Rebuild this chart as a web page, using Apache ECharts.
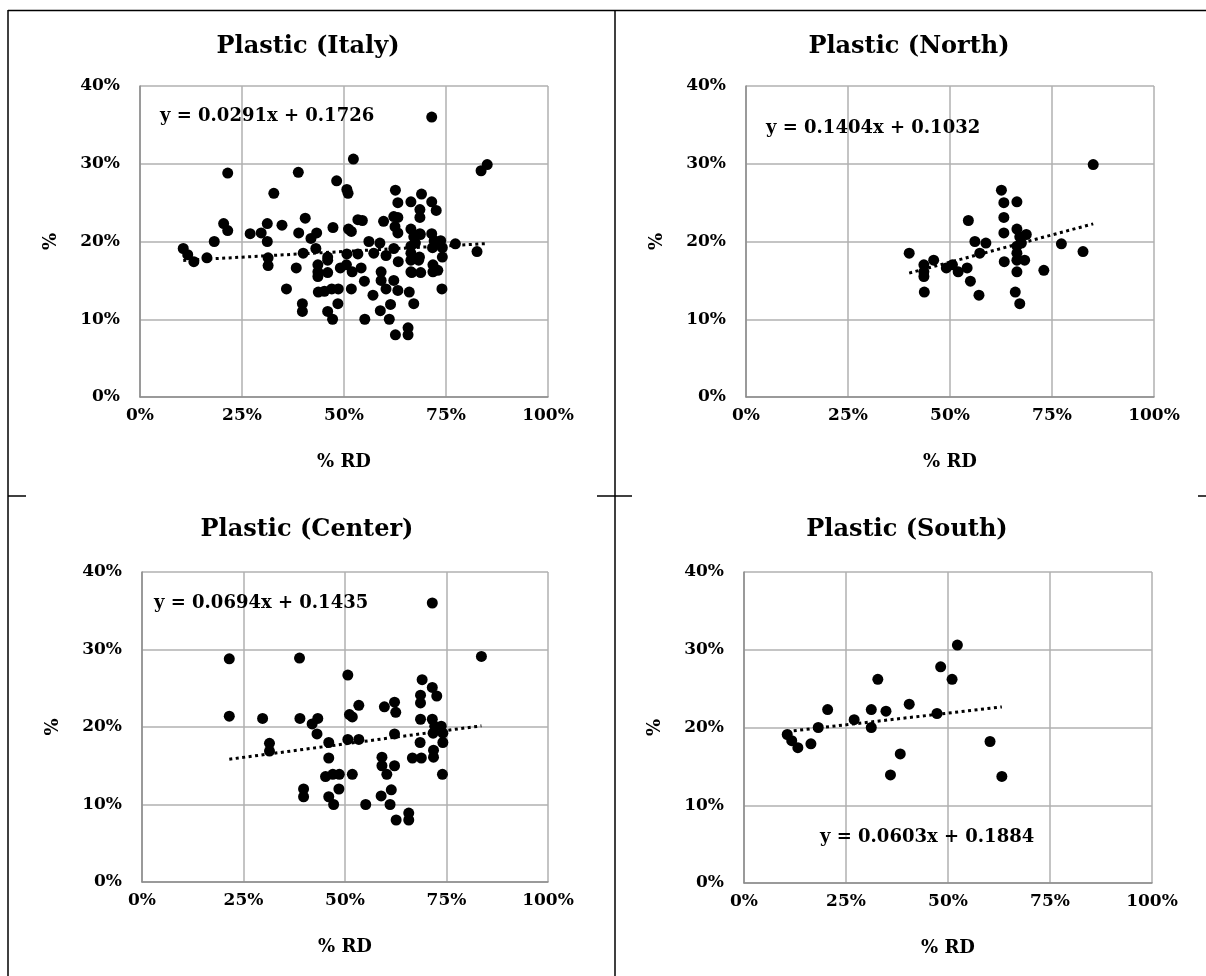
<!DOCTYPE html>
<html><head><meta charset="utf-8">
<script src="https://cdn.jsdelivr.net/npm/echarts@6/dist/echarts.min.js"></script>
<style>html,body{margin:0;padding:0;background:#fff}#c{width:1206px;height:976px}</style>
</head><body><div id="c"></div><script>
// Data: [% RD, % plastic]
const northPts = [
  [85.1,29.9],[62.6,26.6],[63.2,25.0],[66.4,25.1],[54.5,22.7],[63.2,23.1],[63.2,21.1],
  [66.4,21.6],[68.7,20.9],[67.1,20.6],[56.1,20.0],[58.8,19.8],[77.3,19.7],[82.6,18.7],
  [57.3,18.5],[40.0,18.5],[46.0,17.6],[43.6,17.0],[43.6,16.1],[43.6,15.5],[49.1,16.6],
  [50.6,17.0],[52.0,16.1],[54.2,16.6],[55.0,14.9],[57.1,13.1],[43.7,13.5],[63.3,17.4],
  [66.4,18.5],[66.4,17.6],[68.3,17.6],[66.4,16.1],[73.0,16.3],[66.0,13.5],[67.1,12.0],
  [66.4,19.4],[67.5,19.8]
];
const centerPts = [
  [71.5,36.0],[21.5,28.8],[38.8,28.9],[83.6,29.1],[50.7,26.7],[69.0,26.1],[71.5,25.1],
  [72.6,24.0],[68.6,24.1],[68.6,23.1],[53.4,22.8],[59.7,22.6],[62.2,23.2],[62.5,21.9],
  [51.1,21.6],[51.8,21.3],[21.5,21.4],[29.7,21.1],[38.9,21.1],[43.3,21.1],[41.9,20.4],
  [43.1,19.1],[68.6,21.0],[71.5,21.0],[72.1,20.1],[73.7,20.1],[71.7,19.2],[74.1,19.2],
  [74.1,18.0],[62.2,19.1],[50.7,18.4],[53.4,18.4],[46.0,18.0],[31.4,17.9],[31.4,16.9],
  [68.5,18.0],[71.8,17.0],[71.8,16.1],[66.6,16.0],[68.8,16.0],[46.0,16.0],[59.1,16.1],
  [59.1,15.0],[62.2,15.0],[60.3,13.9],[45.2,13.6],[47.0,13.9],[48.6,13.9],[51.8,13.9],
  [74.0,13.9],[39.8,12.0],[39.8,11.0],[46.0,11.0],[48.5,12.0],[47.2,10.0],[55.1,10.0],
  [58.9,11.1],[61.4,11.9],[61.1,10.0],[62.6,8.0],[65.7,8.9],[65.7,8.0]
];
const southPts = [
  [52.3,30.6],[48.2,27.8],[51.0,26.2],[32.8,26.2],[40.5,23.0],[20.5,22.3],[31.2,22.3],
  [34.8,22.1],[47.3,21.8],[27.0,21.0],[18.2,20.0],[31.2,20.0],[10.6,19.1],[11.7,18.3],
  [13.2,17.4],[16.4,17.9],[60.3,18.2],[38.3,16.6],[35.9,13.9],[63.2,13.7]
];
const italyPts = northPts.concat(centerPts, southPts);

const panelTitles = ['Plastic (Italy)', 'Plastic (North)', 'Plastic (Center)', 'Plastic (South)'];
const panelData = [italyPts, northPts, centerPts, southPts];
const trendSlope = [0.0291, 0.1404, 0.0694, 0.0603];
const trendIntercept = [0.1726, 0.1032, 0.1435, 0.1884];
const equationText = ['y = 0.0291x + 0.1726', 'y = 0.1404x + 0.1032', 'y = 0.0694x + 0.1435', 'y = 0.0603x + 0.1884'];
const xAxisName = '% RD';
const yAxisName = '%';

// Layout (pixels)
const grids = [
  {left: 140, top: 86, width: 408, height: 311},
  {left: 746, top: 86, width: 408, height: 311},
  {left: 142, top: 572, width: 406, height: 310},
  {left: 744, top: 572, width: 408, height: 311}
];
const titlePos = [[308, 35], [909, 35], [307, 518], [907, 518]];
const eqPos = [[160, 116], [766, 128], [154, 603], [820, 837]];

const FONT = 'DejaVu Serif';
const chart = echarts.init(document.getElementById('c'), null, {renderer: 'canvas'});

const option = {
  backgroundColor: '#fff',
  animation: false,
  title: panelTitles.map((t, i) => ({
    text: t, left: titlePos[i][0], top: titlePos[i][1], textAlign: 'center', padding: 0,
    textStyle: {fontFamily: FONT, fontWeight: 'bold', fontSize: 24, color: '#000'}
  })),
  grid: grids.map(g => Object.assign({containLabel: false}, g)),
  xAxis: grids.map((g, i) => ({
    gridIndex: i, type: 'value', min: 0, max: 100, interval: 25,
    name: xAxisName, nameLocation: 'middle', nameGap: 56,
    nameTextStyle: {fontFamily: FONT, fontWeight: 'bold', fontSize: 18, color: '#000'},
    axisLine: {show: true, lineStyle: {color: '#8c8c8c', width: 1.5}},
    axisTick: {show: false},
    axisLabel: {formatter: v => v + '%', fontFamily: FONT, fontWeight: 'bold', fontSize: 17, color: '#000', margin: 10},
    splitLine: {show: true, lineStyle: {color: '#b0b0b0', width: 1.5}}
  })),
  yAxis: grids.map((g, i) => ({
    gridIndex: i, type: 'value', min: 0, max: 40, interval: 10,
    name: yAxisName, nameLocation: 'middle', nameGap: 80, nameRotate: 90,
    nameTextStyle: {fontFamily: FONT, fontWeight: 'bold', fontSize: 18, color: '#000'},
    axisLine: {show: true, lineStyle: {color: '#8c8c8c', width: 1.5}},
    axisTick: {show: false},
    axisLabel: {formatter: v => v + '%', fontFamily: FONT, fontWeight: 'bold', fontSize: 17, color: '#000', margin: 20},
    splitLine: {show: true, lineStyle: {color: '#b0b0b0', width: 1.5}}
  })),
  series: [],
  graphic: []
};

panelData.forEach((pts, i) => {
  option.series.push({
    type: 'scatter', xAxisIndex: i, yAxisIndex: i, data: pts,
    symbol: 'circle', symbolSize: 11, itemStyle: {color: '#000', opacity: 1}, z: 3
  });
  const xs = pts.map(p => p[0]);
  const x0 = Math.min(...xs), x1 = Math.max(...xs);
  const f = x => trendSlope[i] * x + trendIntercept[i] * 100;
  option.series.push({
    type: 'line', xAxisIndex: i, yAxisIndex: i, data: [[x0, f(x0)], [x1, f(x1)]],
    symbol: 'none', z: 4,
    lineStyle: {color: '#000', width: 3, type: [3, 3.5], cap: 'butt'}
  });
  option.graphic.push({
    type: 'text', x: eqPos[i][0], y: eqPos[i][1], z: 10,
    style: {text: equationText[i], fill: '#000', font: 'bold 18px "' + FONT + '"', align: 'left', verticalAlign: 'middle'}
  });
});

// table borders
const B = {stroke: '#000', lineWidth: 1.5};
const segs = [
  [8, 10.5, 1206, 10.5], [8, 10, 8, 976], [615, 10, 615, 976],
  [8, 496, 26, 496], [597, 496, 632, 496], [1198, 496, 1206, 496]
];
segs.forEach(s => option.graphic.push({type: 'line', shape: {x1: s[0], y1: s[1], x2: s[2], y2: s[3]}, style: B, z: 20}));

chart.setOption(option);
</script></body></html>
